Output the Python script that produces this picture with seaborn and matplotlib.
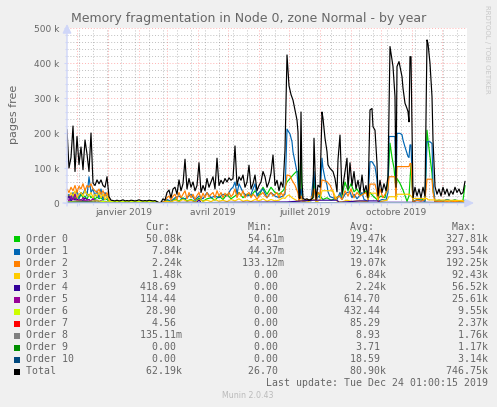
import numpy as np
import pandas as pd
import matplotlib
matplotlib.use('Agg')
import matplotlib.pyplot as plt
import matplotlib.dates as mdates
import matplotlib.transforms as mtransforms
from matplotlib.ticker import FuncFormatter, MultipleLocator
from matplotlib.patches import Rectangle
import seaborn as sns

W, H = 497, 407
start = pd.Timestamp('2018-11-21')

# ---- data (days since start, values in thousands of pages) ----
early_days = [0, 2, 4, 6, 8, 10, 12, 14, 16, 18, 20, 22, 24, 26, 28, 30, 32, 34, 36, 38, 40, 42, 44]

total_days = list(range(0, 220, 2)) + [
    220, 222, 224, 226, 228, 230, 231, 232, 233, 234, 235, 236, 238, 240, 242, 244, 246, 247, 249, 251,
    253, 255, 256, 258, 260, 261, 263, 266, 268, 270, 271, 273, 275, 277, 280, 281, 283, 285, 287, 289,
    291, 293, 295, 297, 299, 301, 303, 305, 306, 308, 310, 311, 313, 315, 317, 319, 321, 323, 325, 326,
    328, 329, 330, 332, 335, 336, 338, 340, 341, 342, 343, 344, 346, 348, 350, 352, 354, 356, 358, 360,
    361, 363, 365, 366, 368, 370, 372, 374, 376, 378, 380, 382, 384, 386, 388, 390, 392, 394, 396, 398]
total_k = [
    210, 100, 130, 220, 90, 190, 110, 160, 95, 180,
    140, 90, 200, 57, 50, 66, 55, 66, 50, 45,
    75, 18, 8, 7, 6, 8, 6, 7, 9, 6,
    7, 6, 8, 7, 6, 7, 9, 7, 6, 7,
    6, 8, 7, 6, 7, 4, 1, 2, 12, 8,
    30, 37, 15, 40, 45, 25, 66, 35, 55, 125,
    40, 70, 45, 60, 35, 50, 115, 30, 50, 35,
    70, 45, 60, 75, 40, 128, 50, 65, 55, 70,
    60, 72, 65, 70, 163, 50, 75, 65, 80, 45,
    60, 108, 40, 55, 80, 35, 50, 60, 90, 75,
    45, 60, 85, 137, 50, 65, 35, 60, 45, 151,
    423, 335, 310, 294, 266, 237, 203, 15, 13, 260,
    60, 13, 10, 12, 8, 10, 15, 185, 10, 51,
    45, 260, 242, 185, 147, 109, 99, 90, 70, 32,
    123, 194, 25, 70, 128, 40, 115, 50, 90, 40,
    65, 30, 80, 30, 50, 15, 266, 270, 218, 208,
    113, 20, 65, 30, 55, 35, 75, 447, 409, 390,
    304, 45, 390, 404, 361, 328, 285, 270, 261, 232,
    418, 418, 15, 45, 20, 40, 15, 45, 20, 466,
    456, 399, 304, 180, 47, 25, 40, 20, 45, 25,
    40, 20, 35, 25, 45, 30, 40, 25, 30, 62]

order0_days = early_days + [92] + list(range(96, 217, 4)) + [218] + [
    220, 223, 226, 229, 231, 232, 234, 235, 236, 240, 244, 246, 247, 249, 251, 253, 256, 260, 264, 268,
    272, 275, 278, 281, 284, 287, 290, 293, 296, 299, 301, 303, 306, 310, 314, 318, 321, 323, 325, 327,
    329, 330, 333, 336, 340, 342, 344, 346, 350, 354, 358, 360, 361, 363, 365, 366, 368, 372, 376, 380,
    384, 388, 392, 396, 398]
order0_k = [10, 20, 15, 25, 10, 20, 12, 25, 15, 20, 10, 25, 15, 20, 10, 18, 12, 15, 8, 12, 10, 5, 0.5] + [0.5] + [
    2, 8, 3, 12, 5, 15, 6, 10, 4, 14, 5, 12, 15, 8, 20, 10, 25, 12, 20, 30,
    15, 25, 20, 35, 20, 45, 25, 45, 30, 25, 35] + [45] + [
    60, 70, 80, 89, 90, 12, 150, 15, 5, 8, 10, 15, 70, 8, 30, 20, 10, 15, 8, 12,
    20, 20, 60, 35, 55, 32, 40, 25, 25, 35, 10, 30, 20, 10, 20, 15, 60, 171, 130, 100,
    40, 70, 56, 37, 5, 20, 110, 5, 8, 12, 6, 208, 180, 132, 85, 37, 5, 8, 5, 10,
    6, 9, 5, 8, 50]

order1_days = early_days + [92] + [
    96, 100, 104, 108, 112, 116, 120, 124, 128, 132, 136, 140, 144, 148, 152, 156, 160, 164, 166, 168,
    170, 172, 176, 180, 184, 188, 190, 192, 196, 200, 204, 208, 212, 216, 218] + [
    220, 223, 225, 226, 228, 230, 231, 232, 234, 236, 240, 244, 247, 249, 251, 253, 255, 256, 258, 260,
    261, 263, 266, 270, 273, 275, 278, 280, 283, 285, 287, 290, 295, 297, 301, 303, 305, 308, 310, 311,
    315, 319, 321, 322, 325, 328, 329, 330, 333, 335, 336, 338, 340, 341, 342, 343, 344, 346, 350, 354,
    358, 360, 363, 365, 366, 368, 372, 376, 380, 384, 388, 392, 396, 398]
order1_k = [15, 25, 10, 30, 20, 35, 15, 30, 25, 40, 20, 75, 30, 40, 20, 35, 15, 40, 10, 30, 15, 8, 0.3] + [0.3] + [
    3, 10, 5, 15, 20, 10, 15, 25, 8, 20, 12, 30, 15, 20, 15, 25, 20, 40, 45, 60,
    25, 55, 30, 20, 25, 55, 20, 30, 40, 15, 30, 20, 15, 20, 25] + [
    211, 197, 175, 146, 118, 89, 51, 5, 40, 3, 8, 6, 90, 5, 20, 15, 128, 99, 70, 51,
    32, 18, 15, 10, 30, 10, 25, 30, 32, 15, 25, 12, 30, 10, 5, 118, 118, 104, 66, 5,
    10, 8, 30, 190, 190, 190, 20, 199, 199, 195, 180, 160, 142, 133, 130, 166, 166, 3, 10, 8,
    5, 175, 175, 170, 60, 3, 8, 5, 10, 6, 8, 5, 6, 7.84]

order2_days = early_days + [92] + list(range(96, 219, 2)) + [
    220, 223, 225, 228, 231, 232, 234, 236, 240, 244, 247, 249, 251, 253, 255, 258, 260, 263, 266, 268,
    272, 275, 278, 281, 284, 287, 290, 293, 296, 299, 301, 303, 308, 310, 311, 313, 316, 319, 321, 322,
    328, 329, 330, 342, 343, 344, 346, 350, 354, 358, 360, 365, 366, 368, 372, 376, 380, 384, 388, 392,
    396, 398]
order2_k = [40, 30, 45, 35, 50, 30, 48, 40, 55, 35, 50, 45, 55, 40, 35, 30, 40, 25, 35, 20, 30, 10, 0.5] + [0.5] + [
    3, 5, 15, 20, 8, 20, 25, 10, 30, 15, 25, 35, 12, 30, 15, 25, 10, 22, 30, 12,
    28, 15, 30, 18, 25, 30, 15, 35, 20, 30, 15, 28, 20, 30, 18, 25, 40, 15, 30, 20,
    35, 15, 25, 30, 15, 25, 20, 10, 20, 25, 30, 20, 15, 25, 30, 20, 25, 30, 15, 30,
    20, 32] + [
    80, 78, 65, 51, 28, 5, 20, 5, 10, 8, 40, 5, 30, 25, 66, 63, 61, 51, 32, 10,
    20, 10, 35, 20, 40, 15, 30, 20, 25, 30, 10, 54, 54, 30, 5, 40, 15, 30, 40, 75,
    75, 10, 104, 104, 113, 113, 3, 8, 5, 10, 68, 68, 30, 3, 5, 3, 4, 3, 5, 3,
    4, 2.24]

order3_days = early_days + [92] + list(range(96, 217, 4)) + [218] + [
    220, 222, 225, 228, 231, 232, 234, 236, 240, 247, 250, 253, 255, 266, 268, 270, 275, 280, 285, 290,
    295, 300, 303, 309, 310, 311, 315, 320, 322, 328, 329, 330, 342, 344, 346, 360, 361, 396, 398]
order3_k = [25, 15, 30, 20, 35, 15, 25, 30, 20, 35, 25, 20, 30, 15, 25, 20, 30, 15, 25, 10, 20, 8, 0.3] + [0.3] + [
    1, 5, 3, 8, 4, 10, 5, 8, 3, 10, 5, 8, 4, 10, 5, 8, 4, 10, 6, 12,
    5, 8, 4, 10, 6, 12, 5, 10, 6, 8, 15] + [13] + [
    20, 23, 15, 10, 5, 3, 8, 3, 3, 10, 3, 10, 35, 35, 20, 5, 3, 8, 4, 6,
    5, 4, 28, 28, 20, 3, 5, 8, 18, 18, 10, 25, 25, 20, 13, 13, 9, 7, 1.48]

order4_days = early_days + [92, 96, 120, 130, 132, 134, 160, 220, 246, 270, 272, 293, 311, 313, 333, 360, 398]
order4_k = [10, 20, 5, 15, 8, 12, 5, 10, 6, 15, 8, 10, 5, 12, 6, 8, 4, 6, 3, 5, 2, 3, 0.2] + [
    0.2, 1, 2, 2, 9, 1, 2, 3, 8, 8, 2, 6, 6, 2, 2, 2, 0.42]

order5_days = early_days + [398]
order5_k = [15, 5, 20, 8, 25, 4, 10, 6, 15, 5, 10, 8, 6, 12, 5, 8, 4, 6, 3, 4, 2, 2, 0.1, 0.11]

order6_days = [0, 10, 20, 30, 40, 44, 46, 90, 92, 96, 398]
order6_k = [3, 5, 4, 6, 3, 4, 4, 4, 1, 0.5, 0.03]

order7_days = [0, 20, 44, 398]
order7_k = [1, 2, 0.5, 0.005]
order8_days = [0, 20, 44, 398]
order8_k = [1, 1.5, 0, 0.135]
order9_days = [0, 20, 44, 398]
order9_k = [0.5, 1, 0, 0]
order10_days = [0, 20, 44, 398]
order10_k = [2, 3, 0, 0]

names = ['Order 0', 'Order 1', 'Order 2', 'Order 3', 'Order 4', 'Order 5', 'Order 6',
         'Order 7', 'Order 8', 'Order 9', 'Order 10', 'Total']
colors = ['#00CC00', '#0066B3', '#FF8000', '#FFCC00', '#330099', '#990099', '#CCFF00',
          '#FF0000', '#808080', '#008F00', '#00487D', '#000000']
cur_txt = ['50.08k', '7.84k', '2.24k', '1.48k', '418.69', '114.44', '28.90', '4.56', '135.11m',
           '0.00', '0.00', '62.19k']
min_txt = ['54.61m', '44.37m', '133.12m', '0.00', '0.00', '0.00', '0.00', '0.00', '0.00',
           '0.00', '0.00', '26.70']
avg_txt = ['19.47k', '32.14k', '19.07k', '6.84k', '2.24k', '614.70', '432.44', '85.29', '8.93',
           '3.71', '18.59', '80.90k']
max_txt = ['327.81k', '293.54k', '192.25k', '92.43k', '56.52k', '25.61k', '9.55k', '2.37k', '1.76k',
           '1.17k', '3.14k', '746.75k']
month_labels = ['janvier 2019', 'avril 2019', 'juillet 2019', 'octobre 2019']
month_label_starts = ['2019-01-01', '2019-04-01', '2019-07-01', '2019-10-01']

series = [
    (order0_days, order0_k), (order1_days, order1_k), (order2_days, order2_k),
    (order3_days, order3_k), (order4_days, order4_k), (order5_days, order5_k),
    (order6_days, order6_k), (order7_days, order7_k), (order8_days, order8_k),
    (order9_days, order9_k), (order10_days, order10_k), (total_days, total_k),
]

frames = []
for name, (days, vals) in zip(names, series):
    frames.append(pd.DataFrame({
        'date': start + pd.to_timedelta(days, unit='D'),
        'pages': np.asarray(vals, dtype=float) * 1000,
        'series': name,
    }))
df = pd.concat(frames, ignore_index=True)

# ---- figure ----
sns.set_theme(style='white')
plt.rcParams['font.family'] = ['DejaVu Sans']
TXT = '#666666'
AXC = '#CFD6F8'

fig = plt.figure(figsize=(W / 100, H / 100), dpi=100, facecolor='#F0F0F0')
ax = fig.add_axes([67 / W, 1 - 203 / H, 400 / W, 175 / H])
ax.set_facecolor('white')

sns.lineplot(data=df, x='date', y='pages', hue='series', hue_order=names,
             palette=dict(zip(names, colors)), estimator=None, legend=False,
             linewidth=0.85, ax=ax)
ax.set_xlabel('')
ax.set_ylabel('')

ax.set_xlim(mdates.date2num(start), mdates.date2num(start + pd.Timedelta(days=400)))
ax.set_ylim(0, 500000)

month_starts = pd.date_range('2018-12-01', '2019-12-01', freq='MS')
ax.set_xticks(mdates.date2num(month_starts))
ax.set_xticklabels([])
biweekly = pd.date_range('2018-12-03', '2019-12-23', freq='14D')
ax.set_xticks(mdates.date2num(biweekly), minor=True)
ax.set_yticks(np.arange(0, 500001, 100000))
ax.yaxis.set_minor_locator(MultipleLocator(20000))
ax.yaxis.set_major_formatter(FuncFormatter(lambda v, p: '0' if v == 0 else f'{v / 1000:.0f} k'))

ax.set_axisbelow(True)
ax.grid(which='major', color='#FF0000', alpha=0.3, lw=0.7, ls=(0, (1, 2)))
ax.grid(which='minor', color='#808080', alpha=0.5, lw=0.7, ls=(0, (1, 2)))
ax.tick_params(which='both', bottom=True, left=True, color=AXC, width=0.8)
ax.tick_params(which='major', length=2.5, labelsize=6.5, labelcolor=TXT, pad=3)
ax.tick_params(which='minor', length=1.5)
for s in ax.spines.values():
    s.set_visible(False)

trans = mtransforms.blended_transform_factory(ax.transData, ax.transAxes)
for lab, ms in zip(month_labels, month_label_starts):
    m0 = pd.Timestamp(ms)
    mid = m0 + pd.Timedelta(days=m0.days_in_month / 2)
    ax.text(mdates.date2num(mid), -0.052, lab, transform=trans, ha='center', va='center',
            fontsize=6.5, color=TXT)

arrow = dict(arrowstyle='-|>,head_length=0.45,head_width=0.22', color=AXC, lw=1,
             shrinkA=0, shrinkB=0)
ax.annotate('', xy=(1.0175, 0), xytext=(-0.01, 0), xycoords='axes fraction',
            textcoords='axes fraction', arrowprops=arrow, annotation_clip=False)
ax.annotate('', xy=(0, 1.023), xytext=(0, -0.017), xycoords='axes fraction',
            textcoords='axes fraction', arrowprops=arrow, annotation_clip=False)

fig.text(249 / W, 1 - 18.5 / H, 'Memory fragmentation in Node 0, zone Normal - by year',
         ha='center', va='center', fontsize=9, color=TXT)
fig.text(14 / W, 1 - 114 / H, 'pages free', rotation=90, ha='center', va='center',
         fontsize=8, color=TXT)
fig.text(487 / W, 1 - 5 / H, 'RRDTOOL / TOBI OETIKER', rotation=270, ha='center', va='top',
         fontsize=5, color='#C8C8C8')

# ---- legend table ----
mono = dict(family='DejaVu Sans Mono', fontsize=7.1, color=TXT, ha='left', va='center')


def cell(s):
    return s if s[-1].isalpha() else s + ' '


header = ' ' * 20 + 'Cur:' + ' ' * 13 + 'Min:' + ' ' * 13 + 'Avg:' + ' ' * 13 + 'Max:'
fig.text(26 / W, 1 - 227.3 / H, header, **mono)
for i, name in enumerate(names):
    yc = 239.5 + 12 * i
    line = (f'{name:<19}{cell(cur_txt[i]):>7}{cell(min_txt[i]):>17}'
            f'{cell(avg_txt[i]):>17}{cell(max_txt[i]):>17}')
    fig.text(26 / W, 1 - yc / H, line, **mono)
    fig.add_artist(Rectangle((14 / W, 1 - (yc + 3) / H), 6 / W, 6 / H,
                             facecolor=colors[i], edgecolor='none', transform=fig.transFigure))
fig.text(26 / W, 1 - 383.3 / H, 'Last update: Tue Dec 24 01:00:15 2019'.rjust(77), **mono)
fig.text(248 / W, 1 - 396 / H, 'Munin 2.0.43', ha='center', va='center', fontsize=5.7,
         color='#BBBBBB')

fig.savefig('out.png', dpi=100, facecolor=fig.get_facecolor())
